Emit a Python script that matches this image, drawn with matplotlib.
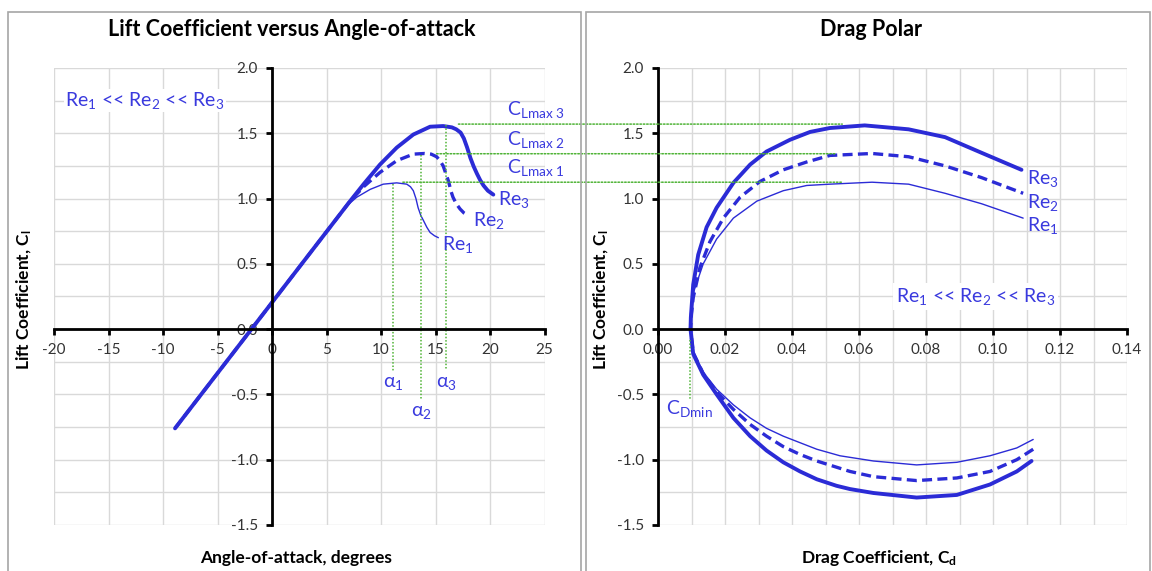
import numpy as np
import matplotlib.pyplot as plt
from matplotlib.patches import Rectangle, ConnectionPatch
from matplotlib.ticker import FormatStrFormatter, MultipleLocator

plt.rcParams['font.family'] = ['Lato', 'DejaVu Sans']
plt.rcParams['mathtext.fontset'] = 'custom'
plt.rcParams['mathtext.rm'] = 'Lato'
plt.rcParams['mathtext.it'] = 'Lato:italic'
plt.rcParams['mathtext.bf'] = 'Lato:bold'
plt.rcParams['mathtext.default'] = 'regular'

AZUL = '#2b2bd6'
AZUL_TXT = '#3a3ade'
VERDE = '#4fb336'
GRADE = '#d9d9d9'

# --- Cl x alfa ---
alfa_re1 = [-8.9, 6.8, 7.77, 9.0, 10.2, 11.44, 12.36, 12.7, 12.96, 13.2, 13.4, 13.65, 13.9,
            14.2, 14.5, 14.9, 15.26]
cl_re1 = [-0.76, 0.94, 1.01, 1.07, 1.11, 1.12, 1.11, 1.09, 1.06, 1.00, 0.93, 0.87, 0.83,
          0.78, 0.74, 0.715, 0.70]

alfa_re2 = [-8.9, 7.16, 8.4, 9.9, 11.44, 12.96, 14.0, 14.6, 15.1, 15.4, 15.7, 15.95, 16.2,
            16.4, 16.6, 16.9, 17.25, 17.6, 18.0]
cl_re2 = [-0.76, 0.98, 1.09, 1.20, 1.29, 1.34, 1.345, 1.34, 1.32, 1.29, 1.25, 1.19, 1.13,
          1.06, 1.01, 0.96, 0.92, 0.89, 0.87]

alfa_re3 = [-8.9, 7.16, 8.4, 9.9, 11.44, 12.96, 14.5, 15.7, 16.5, 16.9, 17.3, 17.6, 17.9,
            18.2, 18.5, 18.8, 19.1, 19.4, 19.8, 20.3]
cl_re3 = [-0.76, 0.98, 1.11, 1.26, 1.39, 1.49, 1.55, 1.555, 1.545, 1.53, 1.505, 1.46, 1.39,
          1.31, 1.245, 1.19, 1.14, 1.10, 1.06, 1.03]

# alfa de stall, Clmax e limites das linhas de referencia
alfa_stall = [11.1, 13.7, 16.0]
cl_max = [1.125, 1.343, 1.57]
alfa_ref_fim = [-0.32, -0.54, -0.31]
alfa_inicio_linha = [12.0, 15.1, 17.1]
cd_fim_linha = [0.055, 0.053, 0.055]

# --- Polar de arrasto (Cd, Cl), do ramo inferior para o superior ---
cd_re1 = [0.1120, 0.1071, 0.0991, 0.0892, 0.0772, 0.0643, 0.0543, 0.0474, 0.0424, 0.0374,
          0.0324, 0.0275, 0.0225, 0.0175, 0.0135, 0.0105, 0.0097, 0.0101, 0.0107, 0.0135,
          0.0175, 0.0225, 0.0295, 0.0374, 0.0444, 0.0513, 0.0639, 0.0748, 0.0857, 0.0966,
          0.1090]
cl_pol_re1 = [-0.845, -0.91, -0.97, -1.02, -1.04, -1.01, -0.97, -0.92, -0.87, -0.82,
              -0.76, -0.68, -0.58, -0.46, -0.33, -0.18, 0.0, 0.15, 0.29, 0.50,
              0.69, 0.85, 0.98, 1.06, 1.10, 1.11, 1.125, 1.11, 1.04, 0.96,
              0.85]

cd_re2 = [0.1120, 0.1071, 0.0991, 0.0892, 0.0772, 0.0643, 0.0573, 0.0474, 0.0424, 0.0374,
          0.0324, 0.0275, 0.0225, 0.0175, 0.0135, 0.0105, 0.0097, 0.0100, 0.0105, 0.0125,
          0.0155, 0.0195, 0.0245, 0.0304, 0.0374, 0.0444, 0.0513, 0.0639, 0.0748, 0.0857,
          0.0966, 0.1090]
cl_pol_re2 = [-0.92, -1.00, -1.09, -1.14, -1.16, -1.13, -1.09, -1.01, -0.96, -0.90,
              -0.82, -0.73, -0.615, -0.48, -0.34, -0.18, 0.0, 0.12, 0.24, 0.47,
              0.67, 0.85, 1.01, 1.13, 1.22, 1.28, 1.33, 1.345, 1.32, 1.25,
              1.16, 1.04]

cd_re3 = [0.1115, 0.1071, 0.0991, 0.0892, 0.0772, 0.0643, 0.0573, 0.0533, 0.0474, 0.0424,
          0.0374, 0.0324, 0.0275, 0.0225, 0.0175, 0.0135, 0.0105, 0.0097, 0.0098, 0.0105,
          0.0120, 0.0145, 0.0175, 0.0225, 0.0275, 0.0324, 0.0394, 0.0454, 0.0513, 0.0617,
          0.0748, 0.0857, 0.0966, 0.1085]
cl_pol_re3 = [-1.01, -1.09, -1.19, -1.27, -1.29, -1.255, -1.225, -1.20, -1.15, -1.09,
              -1.02, -0.93, -0.82, -0.68, -0.50, -0.35, -0.19, 0.0, 0.09, 0.34,
              0.57, 0.78, 0.93, 1.12, 1.26, 1.36, 1.45, 1.51, 1.54, 1.56,
              1.53, 1.47, 1.35, 1.22]

cd_min = 0.0095

ESTILOS = [dict(lw=1.0, ls='-'), dict(lw=2.4, ls=(0, (3.0, 1.6))), dict(lw=2.8, ls='-')]


def configurar_eixo(ax, xlim, ylim, x_major, x_grid, x_fmt, origem_x):
    """Eixos no estilo Excel: spines cruzando na origem e grade cinza."""
    ax.set_xlim(*xlim)
    ax.set_ylim(*ylim)
    ax.xaxis.set_major_locator(MultipleLocator(x_major))
    ax.xaxis.set_minor_locator(MultipleLocator(x_grid))
    ax.yaxis.set_major_locator(MultipleLocator(0.5))
    ax.yaxis.set_minor_locator(MultipleLocator(0.25))
    ax.xaxis.set_major_formatter(FormatStrFormatter(x_fmt))
    ax.yaxis.set_major_formatter(FormatStrFormatter('%.1f'))
    ax.grid(True, which='both', color=GRADE, lw=1.0)
    ax.set_axisbelow(True)
    for lado in ['top', 'right']:
        ax.spines[lado].set_visible(False)
    ax.spines['left'].set_position(('data', origem_x))
    ax.spines['bottom'].set_position(('data', 0))
    for lado in ['left', 'bottom']:
        ax.spines[lado].set_linewidth(2.0)
        ax.spines[lado].set_color('black')
    ax.tick_params(which='major', direction='out', length=4, width=2, pad=6,
                   labelsize=11, labelcolor='#333333')
    ax.tick_params(which='minor', length=0)


fig = plt.figure(figsize=(11.52, 5.71), dpi=100)

# molduras dos dois paineis
fig.patches.append(Rectangle((8 / 1152, -0.05), 573 / 1152, 1.05 - 12 / 571,
                             transform=fig.transFigure, fill=False, ec='#a6a6a6', lw=1.2))
fig.patches.append(Rectangle((586 / 1152, -0.05), 564 / 1152, 1.05 - 12 / 571,
                             transform=fig.transFigure, fill=False, ec='#a6a6a6', lw=1.2))

ax1 = fig.add_axes([0.0469, 0.0806, 0.4258, 0.8004])
ax2 = fig.add_axes([0.5712, 0.0806, 0.4071, 0.8004])

configurar_eixo(ax1, (-20, 25), (-1.5, 2.0), 5, 5, '%d', 0)
configurar_eixo(ax2, (0, 0.14), (-1.5, 2.0), 0.02, 0.01, '%.2f', 0)

# --- Painel 1: Cl x alfa ---
for a, c, est in zip([alfa_re1, alfa_re2, alfa_re3], [cl_re1, cl_re2, cl_re3], ESTILOS):
    ax1.plot(a, c, color=AZUL, solid_capstyle='round', solid_joinstyle='round', **est)

for i in range(3):
    ax1.plot([alfa_stall[i], alfa_stall[i]], [cl_max[i] - 0.01, alfa_ref_fim[i]],
             color=VERDE, lw=1.1, ls=(0, (1, 1.2)))
    linha = ConnectionPatch(xyA=(alfa_inicio_linha[i], cl_max[i]), coordsA=ax1.transData,
                            xyB=(cd_fim_linha[i], cl_max[i]), coordsB=ax2.transData,
                            color=VERDE, lw=1.1, ls=(0, (1, 1.2)))
    fig.add_artist(linha)
    ax1.text(21.6, cl_max[i] + 0.03, r'C$_{\mathrm{Lmax\ %d}}$' % (i + 1), color=AZUL_TXT,
             fontsize=14, ha='left', va='bottom')

ax1.text(alfa_stall[0], -0.42, r'$\alpha_1$', color=AZUL_TXT, fontsize=14, ha='center', va='center')
ax1.text(alfa_stall[1], -0.64, r'$\alpha_2$', color=AZUL_TXT, fontsize=14, ha='center', va='center')
ax1.text(alfa_stall[2], -0.42, r'$\alpha_3$', color=AZUL_TXT, fontsize=14, ha='center', va='center')

ax1.text(20.7, 0.99, 'Re$_3$', color=AZUL_TXT, fontsize=14, ha='left', va='center')
ax1.text(18.4, 0.83, 'Re$_2$', color=AZUL_TXT, fontsize=14, ha='left', va='center')
ax1.text(15.6, 0.65, 'Re$_1$', color=AZUL_TXT, fontsize=14, ha='left', va='center')
ax1.text(-19.0, 1.75, 'Re$_1$ << Re$_2$ << Re$_3$', color=AZUL_TXT, fontsize=14,
         ha='left', va='center', bbox=dict(facecolor='white', edgecolor='none', pad=1))

# --- Painel 2: polar de arrasto ---
for cd, c, est in zip([cd_re1, cd_re2, cd_re3], [cl_pol_re1, cl_pol_re2, cl_pol_re3], ESTILOS):
    ax2.plot(cd, c, color=AZUL, solid_capstyle='round', solid_joinstyle='round', **est)

ax2.plot([cd_min, cd_min], [-0.08, -0.54], color=VERDE, lw=1.1, ls=(0, (1, 1.2)))
ax2.text(0.0024, -0.61, r'C$_{\mathrm{Dmin}}$', color=AZUL_TXT, fontsize=14, ha='left', va='center')

ax2.text(0.110, 1.15, 'Re$_3$', color=AZUL_TXT, fontsize=14, ha='left', va='center')
ax2.text(0.110, 0.97, 'Re$_2$', color=AZUL_TXT, fontsize=14, ha='left', va='center')
ax2.text(0.110, 0.79, 'Re$_1$', color=AZUL_TXT, fontsize=14, ha='left', va='center')
ax2.text(0.071, 0.25, 'Re$_1$ << Re$_2$ << Re$_3$', color=AZUL_TXT, fontsize=14,
         ha='left', va='center', bbox=dict(facecolor='white', edgecolor='none', pad=2))

# titulos e rotulos dos eixos
fig.text(292 / 1152, 1 - 30 / 571, 'Lift Coefficient versus Angle-of-attack',
         fontsize=15.5, fontweight='bold', ha='center', va='center')
fig.text(871 / 1152, 1 - 30 / 571, 'Drag Polar', fontsize=15.5, fontweight='bold',
         ha='center', va='center')
fig.text(296 / 1152, 1 - 558 / 571, 'Angle-of-attack, degrees', fontsize=12.5,
         fontweight='bold', ha='center', va='center')
fig.text(879 / 1152, 1 - 558 / 571, r'Drag Coefficient, C$_\mathbf{d}$', fontsize=12.5,
         fontweight='bold', ha='center', va='center')
fig.text(24 / 1152, 1 - 300 / 571, r'Lift Coefficient, C$_\mathbf{l}$', fontsize=12.5,
         fontweight='bold', ha='center', va='center', rotation=90)
fig.text(601 / 1152, 1 - 300 / 571, r'Lift Coefficient, C$_\mathbf{l}$', fontsize=12.5,
         fontweight='bold', ha='center', va='center', rotation=90)

plt.savefig('out.png', dpi=100)
plt.close()
